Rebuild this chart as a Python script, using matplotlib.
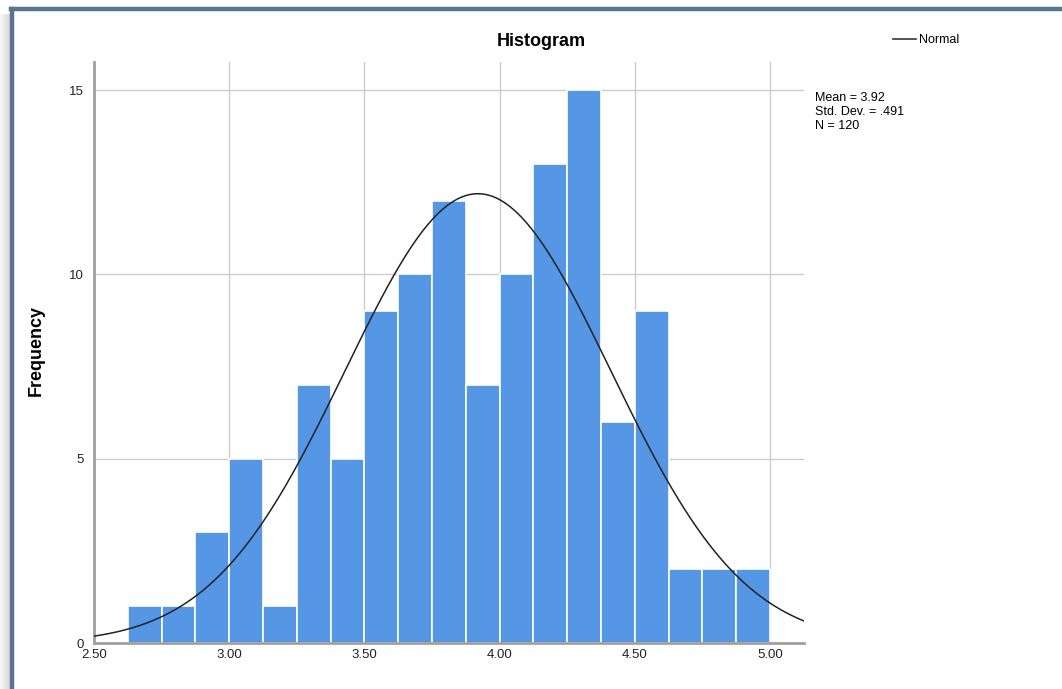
import numpy as np
import matplotlib
matplotlib.use("Agg")
import matplotlib.pyplot as plt
from matplotlib.lines import Line2D
from matplotlib.patches import Rectangle

plt.rcParams['font.family'] = ['Liberation Sans', 'DejaVu Sans']

# Data
bin_start = 2.625
bin_width = 0.125
counts = [1, 1, 3, 5, 1, 7, 5, 9, 10, 12, 7, 10, 13, 15, 6, 9, 2, 2, 2]
mean = 3.92
std = 0.491
n = 120
xticks = [2.50, 3.00, 3.50, 4.00, 4.50, 5.00]
xtick_labels = ["2.50", "3.00", "3.50", "4.00", "4.50", "5.00"]
yticks = [0, 5, 10, 15]

W, H = 1062, 689
fig = plt.figure(figsize=(W / 100, H / 100), dpi=100)

# frame and soft shadow on the left
for i in range(10):
    a = 0.06 + 0.03 * i
    fig.patches.append(Rectangle((i / W, 0), 1.0 / W, 1 - 14 / H, transform=fig.transFigure,
                                 facecolor='0.55', alpha=a, edgecolor='none', zorder=0))
fig.add_artist(Line2D([11 / W, 1.0], [1 - 9 / H, 1 - 9 / H], transform=fig.transFigure,
                      color='#5b7393', lw=3.2))
fig.add_artist(Line2D([12 / W, 12 / W], [0, 1 - 9 / H], transform=fig.transFigure,
                      color='#5b7393', lw=3.2))

ax = fig.add_axes([94 / W, 1 - 643 / H, (804 - 94) / W, (643 - 62) / H])
ax.set_xlim(2.5, 5.126)
ax.set_ylim(0, 15.76)

edges = bin_start + bin_width * np.arange(len(counts))
ax.bar(edges, counts, width=bin_width, align='edge', color='#5596e5',
       edgecolor='white', linewidth=1.2, zorder=2)

xs = np.linspace(2.5, 5.126, 400)
ys = n * bin_width * np.exp(-0.5 * ((xs - mean) / std) ** 2) / (std * np.sqrt(2 * np.pi))
ax.plot(xs, ys, color='#222222', lw=1.1, zorder=3)

ax.set_xticks(xticks)
ax.set_xticklabels(xtick_labels)
ax.set_yticks(yticks)
ax.tick_params(length=0, labelsize=9.5, colors='#222222')
ax.tick_params(axis='x', pad=4)
ax.tick_params(axis='y', pad=7)
ax.grid(True, color='#cccccc', lw=1.0, zorder=0)
ax.set_axisbelow(True)
for s in ['top', 'right']:
    ax.spines[s].set_visible(False)
ax.spines['left'].set_color('#a0a0a0')
ax.spines['left'].set_linewidth(2)
ax.spines['bottom'].set_color('#a0a0a0')
ax.spines['bottom'].set_linewidth(2)

ax.set_ylabel('Frequency', fontsize=13, fontweight='bold')
ax.yaxis.set_label_coords((45 - 94) / 710, (643 - 350) / 581)
fig.text(541 / W, 1 - 42 / H, 'Histogram', ha='center', va='center', fontsize=13, fontweight='bold')

# legend
fig.add_artist(Line2D([893 / W, 916 / W], [1 - 39 / H, 1 - 39 / H], transform=fig.transFigure,
                      color='#333333', lw=1.2))
fig.text(919 / W, 1 - 40 / H, 'Normal', ha='left', va='center', fontsize=9)
fig.text(815 / W, 1 - 92 / H, 'Mean = %.2f\nStd. Dev. = .491\nN = %d' % (mean, n),
         ha='left', va='top', fontsize=9, linespacing=1.2)

fig.savefig('out.png', dpi=100)
